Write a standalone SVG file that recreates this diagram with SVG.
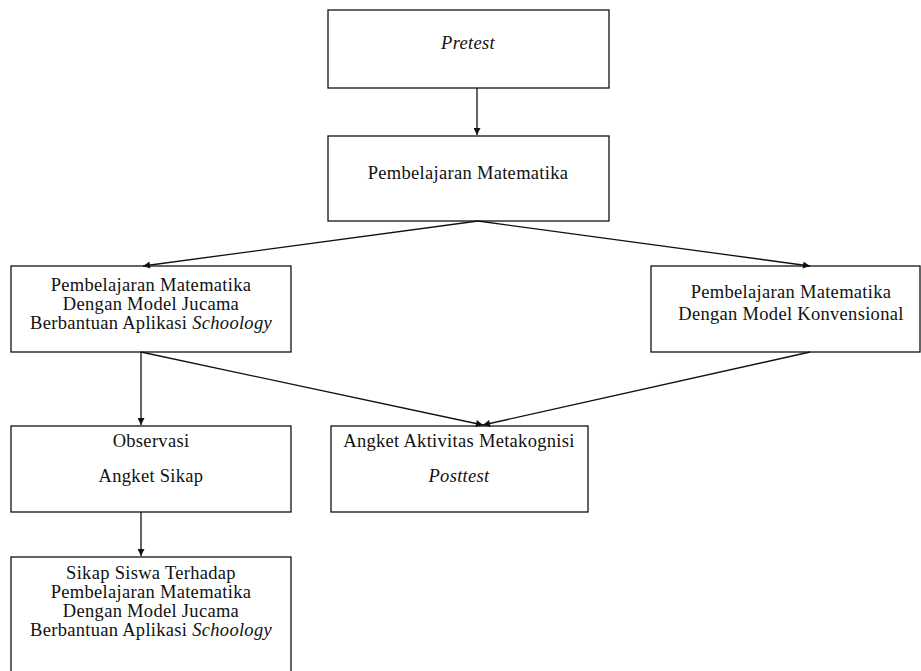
<svg xmlns="http://www.w3.org/2000/svg" width="921" height="671" viewBox="0 0 921 671">
<style>
.box{fill:#fff;stroke:#111;stroke-width:1.3}
.t{font-family:"Liberation Serif","Times New Roman",serif;font-size:18.5px;letter-spacing:0.3px;fill:#111;text-anchor:middle}
.i{font-style:italic}
.c{stroke:#111;stroke-width:1.3;fill:none;marker-end:url(#ah)}
</style>
<defs>
<marker id="ah" viewBox="0 0 10 10" refX="10" refY="5" markerWidth="8" markerHeight="7" markerUnits="userSpaceOnUse" orient="auto">
<path d="M0,0 L10,5 L0,10 z" fill="#111"/>
</marker>
</defs>
<rect width="921" height="671" fill="#fff"/>
<g id="pretest"><rect class="box" x="328" y="10" width="281" height="78"/><text class="t i" x="468" y="49">Pretest</text></g>
<g id="pembelajaran"><rect class="box" x="328" y="136" width="281" height="85"/><text class="t" x="468" y="179">Pembelajaran Matematika</text></g>
<g id="jucama"><rect class="box" x="11" y="266" width="280" height="86"/><text class="t" x="151" y="290.5">Pembelajaran Matematika</text><text class="t" x="151" y="309.5">Dengan Model Jucama</text><text class="t" x="151" y="328.5">Berbantuan Aplikasi <tspan class="i">Schoology</tspan></text></g>
<g id="konvensional"><rect class="box" x="651" y="266" width="269" height="86"/><text class="t" x="791" y="298">Pembelajaran Matematika</text><text class="t" x="791" y="320">Dengan Model Konvensional</text></g>
<g id="observasi"><rect class="box" x="11" y="426" width="280" height="86"/><text class="t" x="151" y="447">Observasi</text><text class="t" x="151" y="482">Angket Sikap</text></g>
<g id="angket"><rect class="box" x="331" y="426" width="257" height="86"/><text class="t" x="459" y="447">Angket Aktivitas Metakognisi</text><text class="t i" x="459" y="482">Posttest</text></g>
<g id="sikap"><rect class="box" x="11" y="557" width="280" height="120"/><text class="t" x="151" y="578.5">Sikap Siswa Terhadap</text><text class="t" x="151" y="597.5">Pembelajaran Matematika</text><text class="t" x="151" y="616.5">Dengan Model Jucama</text><text class="t" x="151" y="635.5">Berbantuan Aplikasi <tspan class="i">Schoology</tspan></text></g>
<g id="connectors">
<path class="c" d="M477,88 L477,135"/>
<path class="c" d="M478,221 L143,266"/>
<path class="c" d="M478,221 L810,266"/>
<path class="c" d="M141,352 L141,425"/>
<path class="c" d="M141,352 L483,425"/>
<path class="c" d="M810,352 L483,425"/>
<path class="c" d="M141,512 L141,556"/>
</g>
</svg>
